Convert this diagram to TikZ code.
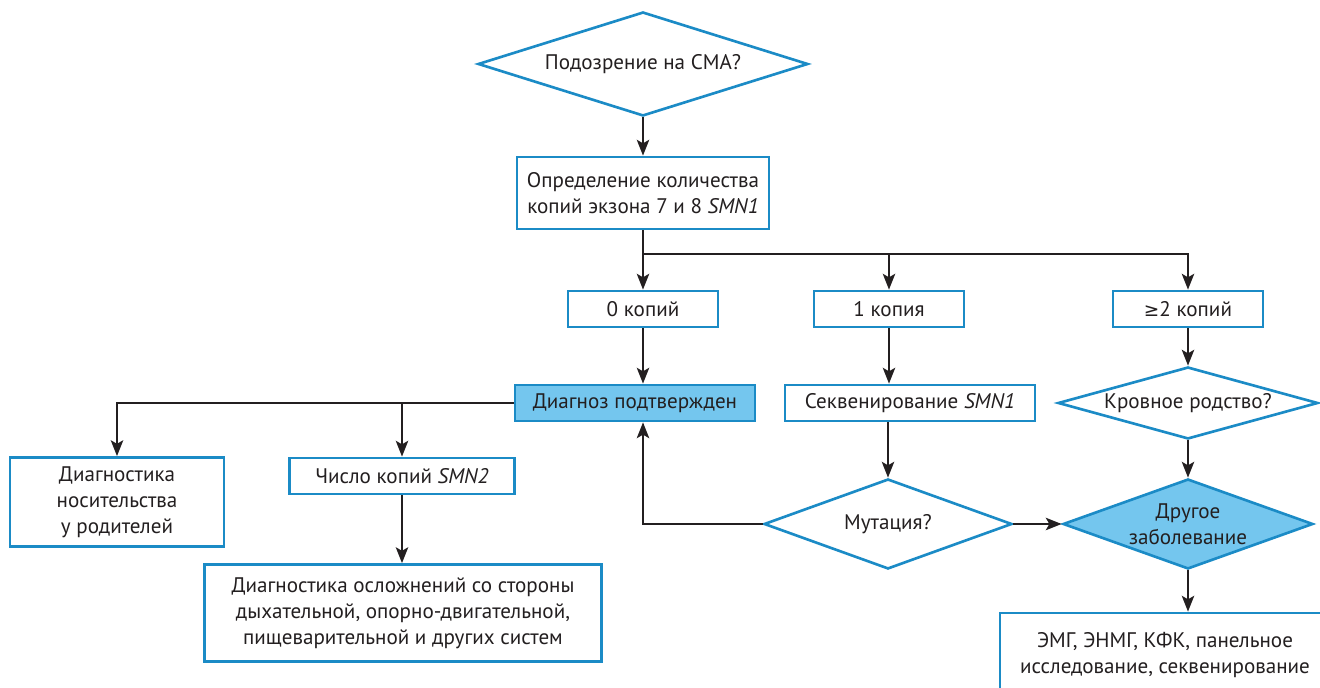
\documentclass[tikz,border=0pt]{standalone}
\usepackage{fontspec}
\setmainfont{PT Sans}
\newfontfamily\symfont{DejaVu Sans}
\usetikzlibrary{shapes.geometric,arrows.meta}
\definecolor{cblue}{HTML}{1B8BC6}
\definecolor{cfill}{HTML}{74C6EE}
\definecolor{cline}{HTML}{231F20}
\begin{document}
\begin{tikzpicture}[x=0.02cm,y=-0.02cm,
  every node/.style={font=\fontsize{12}{14.8}\selectfont, text=cline, align=center},
  box/.style={draw=cblue, line width=1.5pt, fill=white, inner sep=0pt},
  dec/.style={box, diamond},
  hl/.style={fill=cfill},
  conn/.style={draw=cline, line width=1.4pt},
  arr/.style={conn, -{Stealth[length=9pt,width=7pt,inset=2pt]}},
  wh/.style 2 args={minimum width=#1*0.02cm, minimum height=#2*0.02cm}]
\clip (0,0) rectangle (1320,688);

% decision and process nodes
\node[dec, wh={330}{104}, aspect=3.17] (q) at (643,64) {Подозрение на СМА?};
\node[box, wh={252}{72}] (count) at (643,193) {Определение количества\\копий экзона 7 и 8 \textit{SMN1}};
\node[box, wh={150}{36}] (c0) at (643,309) {0 копий};
\node[box, wh={150}{36}] (c1) at (889,309) {1 копия};
\node[box, wh={150}{36}] (c2) at (1188,309) {{\symfont\fontsize{10.5}{12}\selectfont ≥}2 копий};
\node[box, hl, wh={240}{36}] (conf) at (635,403) {Диагноз подтвержден};
\node[box, wh={250}{36}] (seq) at (910,403) {Секвенирование \textit{SMN1}};
\node[dec, wh={260}{72}, aspect=3.61] (kin) at (1188,403) {Кровное родство?};
\node[box, wh={214}{89}] (carrier) at (117,502) {Диагностика\\носительства\\у родителей};
\node[box, wh={225}{36}] (smn2) at (402,476) {Число копий \textit{SMN2}};
\node[box, wh={397}{97}] (compl) at (403,613) {Диагностика осложнений со стороны\\дыхательной, опорно-двигательной,\\пищеварительной и других систем};
\node[dec, wh={248}{90}, aspect=2.76] (mut) at (888,524) {Мутация?};
\node[dec, hl, wh={250}{90}, aspect=2.78] (other) at (1188,524) {Другое\\заболевание};
\node[box, wh={330}{84}] (emg) at (1165,655) {ЭМГ, ЭНМГ, КФК, панельное\\исследование, секвенирование};

% connectors
\coordinate (br) at (643,254);
\draw[arr] (q.south) -- (count.north);
\draw[conn] (count.south) -- (br);
\draw[arr] (br) -- (c0.north);
\draw[arr] (br) -| (c2.north);
\draw[arr] (br -| c1.north) -- (c1.north);
\draw[arr] (c0.south) -- (c0.south |- conf.north);
\draw[arr] (c1.south) -- (c1.south |- seq.north);
\draw[arr] (c2.south) -- (kin.north);
\draw[arr] (conf.west) -| (carrier.north);
\draw[arr] (conf.west -| smn2.north) -- (smn2.north);
\draw[arr] (smn2.south) -- (smn2.south |- compl.north);
\draw[arr] (mut.north |- seq.south) -- (mut.north);
\draw[arr] (mut.west) -| (c0.south |- conf.south);
\draw[arr] (mut.east) -- (other.west);
\draw[arr] (kin.south) -- (other.north);
\draw[arr] (other.south) -- (other.south |- emg.north);
\end{tikzpicture}
\end{document}
